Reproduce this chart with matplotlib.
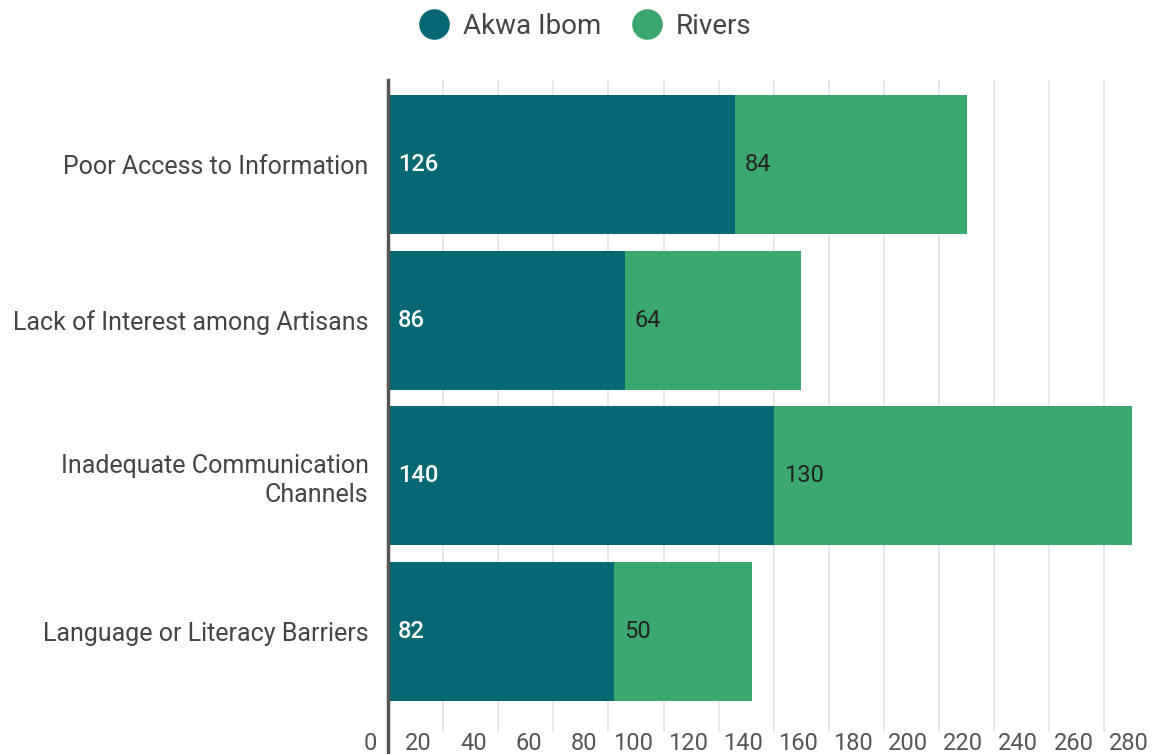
import matplotlib
matplotlib.use('Agg')
import matplotlib.pyplot as plt
from matplotlib.lines import Line2D
from matplotlib.transforms import ScaledTranslation

categories = ['Poor Access to Information', 'Lack of Interest among Artisans',
              'Inadequate Communication\nChannels', 'Language or Literacy Barriers']
akwa_ibom = [126, 86, 140, 82]
rivers = [84, 64, 130, 50]
series_names = ['Akwa Ibom', 'Rivers']
xticks = list(range(0, 281, 20))

teal = '#066873'
green = '#3ba86e'

plt.rcParams['font.family'] = ['Roboto', 'DejaVu Sans']

W, H = 1156, 754
fig = plt.figure(figsize=(W / 100, H / 100), dpi=100)
left, right, top, bottom = 388, 1159.6, 80, 732
ax = fig.add_axes([left / W, 1 - bottom / H, (right - left) / W, (bottom - top) / H])

pitch = 155.7
c0 = 164.5
ymin = -(c0 - top) / pitch
ymax = (bottom - c0) / pitch
ypos = list(range(len(categories)))
bh = 139 / pitch

ax.barh(ypos, akwa_ibom, height=bh, color=teal, zorder=2)
ax.barh(ypos, rivers, left=akwa_ibom, height=bh, color=green, zorder=2)

for y, a, r in zip(ypos, akwa_ibom, rivers):
    ax.annotate(str(a), (0, y), xytext=(10, 0), textcoords='offset pixels',
                va='center', ha='left', color='white', fontsize=17, fontweight='medium')
    ax.annotate(str(r), (a, y), xytext=(10, 0), textcoords='offset pixels',
                va='center', ha='left', color='#222222', fontsize=17)

ax.set_xlim(0, 280)
ax.set_ylim(ymax, ymin)
ax.set_yticks(ypos)
ax.set_yticklabels(categories, fontsize=18, color='#444444', linespacing=1.22)
ax.set_xticks(xticks)
ax.set_xticklabels([str(t) for t in xticks], fontsize=17, color='#555555')
ax.tick_params(axis='y', length=0, pad=14)
ax.tick_params(axis='x', length=0, pad=0)
off = ScaledTranslation(-11 / 100, 0, fig.dpi_scale_trans)
for lab in ax.get_xticklabels():
    lab.set_horizontalalignment('right')
    lab.set_transform(lab.get_transform() + off)

ax.grid(axis='x', color='#e6e6e6', linewidth=1.3, zorder=0)
ax.set_axisbelow(True)
for s in ax.spines.values():
    s.set_visible(False)

# left axis line runs to the bottom edge of the figure
fig.add_artist(Line2D([left / W, left / W], [0, 1 - top / H], transform=fig.transFigure,
                      color='#555555', linewidth=2.5))

handles = [Line2D([], [], marker='o', linestyle='none', markersize=21, color=teal),
           Line2D([], [], marker='o', linestyle='none', markersize=21, color=green)]
fig.legend(handles, series_names, loc='center', bbox_to_anchor=(0.5007, 1 - 26 / H), ncol=2,
           frameon=False, fontsize=20, handletextpad=0.05, columnspacing=0.65,
           labelcolor='#444444')

fig.savefig('out.png', dpi=100)
